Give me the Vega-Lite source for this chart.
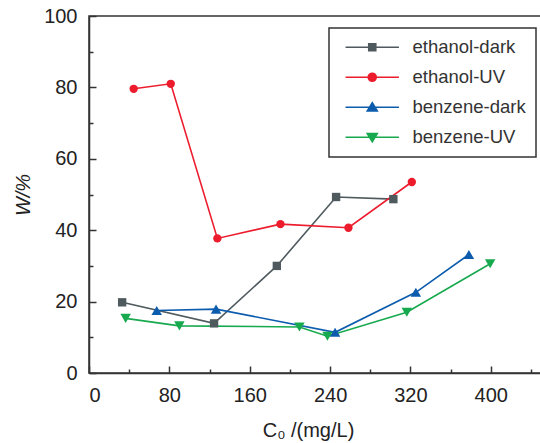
{
  "$schema": "https://vega.github.io/schema/vega-lite/v6.json",
  "width": 452,
  "height": 357,
  "autosize": {"type": "none"},
  "padding": {"left": 89, "top": 16, "right": 0, "bottom": 70},
  "background": "white",
  "config": {
    "font": "Liberation Sans",
    "view": {"stroke": "#333", "strokeWidth": 1.5},
    "axis": {
      "grid": false,
      "domainColor": "#333",
      "domainWidth": 1.5,
      "tickColor": "#333",
      "tickWidth": 1.5,
      "labelFont": "Liberation Sans",
      "labelFontSize": 20,
      "labelColor": "#222",
      "titleFont": "Liberation Sans",
      "titleFontSize": 20,
      "titleColor": "#222",
      "titleFontWeight": "normal"
    },
    "legend": {
      "orient": "none", "legendX": 240, "legendY": 12, "title": null,
      "strokeColor": "#333", "strokeWidth": 1.5, "padding": 10,
      "labelFontSize": 18.5, "labelColor": "#333", "labelFont": "Liberation Sans",
      "symbolSize": 100, "symbolStrokeWidth": 1.6, "rowPadding": 11, "labelOffset": 55
    }
  },
  "data": {
    "values": [
      {"series": "ethanol-dark", "c": 33, "w": 19.8},
      {"series": "ethanol-dark", "c": 124.5, "w": 13.9},
      {"series": "ethanol-dark", "c": 187, "w": 30.0},
      {"series": "ethanol-dark", "c": 246, "w": 49.3},
      {"series": "ethanol-dark", "c": 303, "w": 48.7},
      {"series": "ethanol-UV", "c": 44.5, "w": 79.6},
      {"series": "ethanol-UV", "c": 81.4, "w": 81.0},
      {"series": "ethanol-UV", "c": 127.8, "w": 37.7},
      {"series": "ethanol-UV", "c": 190.6, "w": 41.7},
      {"series": "ethanol-UV", "c": 258.3, "w": 40.7},
      {"series": "ethanol-UV", "c": 321.4, "w": 53.5},
      {"series": "benzene-dark", "c": 67.4, "w": 17.5},
      {"series": "benzene-dark", "c": 126.5, "w": 17.9},
      {"series": "benzene-dark", "c": 245, "w": 11.4},
      {"series": "benzene-dark", "c": 325.4, "w": 22.6},
      {"series": "benzene-dark", "c": 378.2, "w": 33.2},
      {"series": "benzene-UV", "c": 36.5, "w": 15.3},
      {"series": "benzene-UV", "c": 90, "w": 13.2},
      {"series": "benzene-UV", "c": 209.5, "w": 12.9},
      {"series": "benzene-UV", "c": 237.4, "w": 10.3},
      {"series": "benzene-UV", "c": 316.4, "w": 17.0},
      {"series": "benzene-UV", "c": 399.4, "w": 30.6}
    ]
  },
  "layer": [
    {
      "mark": {"type": "line", "strokeWidth": 1.6},
      "encoding": {
        "x": {
          "field": "c", "type": "quantitative",
          "scale": {"domain": [0, 450], "nice": false},
          "axis": {"orient": "bottom", "values": [0, 80, 160, 240, 320, 400], "tickSize": -7, "labelPadding": 19, "title": "C₀ /(mg/L)", "titleX": 219, "titlePadding": 15}
        },
        "y": {
          "field": "w", "type": "quantitative",
          "scale": {"domain": [0, 100], "nice": false},
          "axis": {"orient": "left", "values": [0, 20, 40, 60, 80, 100], "tickSize": -7, "labelPadding": 19, "title": "W/%", "titleFontStyle": "italic", "titlePadding": 10}
        },
        "color": {
          "field": "series", "type": "nominal",
          "scale": {"domain": ["ethanol-dark", "ethanol-UV", "benzene-dark", "benzene-UV"], "range": ["#4f5a5e", "#ec1c2d", "#0c5cae", "#17a94e"]}
        },
        "detail": {"field": "series"}
      }
    },
    {
      "mark": {"type": "point", "filled": true, "opacity": 1},
      "encoding": {
        "x": {
          "field": "c", "type": "quantitative",
          "axis": {"orient": "bottom", "values": [40, 120, 200, 280, 360, 440], "tickSize": -4, "labels": false, "domain": false, "title": null}
        },
        "y": {
          "field": "w", "type": "quantitative",
          "axis": {"orient": "left", "values": [10, 30, 50, 70, 90], "tickSize": -4, "labels": false, "domain": false, "title": null}
        },
        "color": {"field": "series", "type": "nominal"},
        "shape": {
          "condition": [
            {"test": "datum.series === 'ethanol-dark'", "value": "square"},
            {"test": "datum.series === 'ethanol-UV'", "value": "circle"},
            {"test": "datum.series === 'benzene-dark'", "value": "triangle-up"}
          ],
          "value": "triangle-down"
        },
        "size": {
          "condition": {"test": "datum.series === 'benzene-dark' || datum.series === 'benzene-UV'", "value": 110},
          "value": 70
        }
      }
    },
    {
      "transform": [{"filter": "datum.c < 0"}],
      "mark": {"type": "point", "filled": true, "strokeWidth": 1.6},
      "encoding": {
        "x": {"field": "c", "type": "quantitative", "axis": null},
        "y": {"field": "w", "type": "quantitative", "axis": null},
        "color": {"field": "series", "type": "nominal"},
        "stroke": {
          "field": "series", "type": "nominal",
          "scale": {"domain": ["ethanol-dark", "ethanol-UV", "benzene-dark", "benzene-UV"], "range": ["#4f5a5e", "#ec1c2d", "#0c5cae", "#17a94e"]}
        },
        "shape": {
          "field": "series", "type": "nominal",
          "scale": {
            "domain": ["ethanol-dark", "ethanol-UV", "benzene-dark", "benzene-UV"],
            "range": [
              "M-0.54,0H10.14M4.1,-0.7H5.5V0.7H4.1Z",
              "M-0.54,0H10.14M5.6,0A0.8,0.8,0,1,1,4.0,0A0.8,0.8,0,1,1,5.6,0Z",
              "M-0.54,0H10.14M4.8,-0.9L5.8,0.75L3.8,0.75Z",
              "M-0.54,0H10.14M4.8,0.9L5.8,-0.75L3.8,-0.75Z"
            ]
          }
        }
      }
    }
  ],
  "resolve": {"axis": {"x": "independent", "y": "independent"}}
}
